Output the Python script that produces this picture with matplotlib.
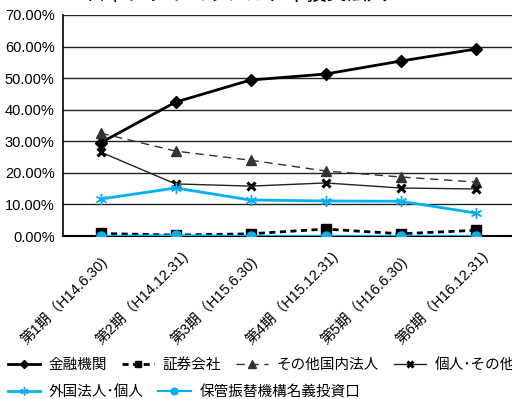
import matplotlib
matplotlib.use("Agg")
import matplotlib.pyplot as plt
import matplotlib.transforms as mtransforms
from matplotlib.ticker import FuncFormatter

plt.rcParams['font.family'] = ['Noto Sans CJK JP', 'DejaVu Sans']

title = "日本プライムリアルティ投資法人"
periods = ["第1期（H14.6.30)", "第2期（H14.12.31)", "第3期（H15.6.30)",
           "第4期（H15.12.31)", "第5期（H16.6.30)", "第6期（H16.12.31)"]

financial = [29.5, 42.4, 49.4, 51.3, 55.4, 59.2]
securities = [0.8, 0.3, 0.7, 2.2, 0.7, 1.8]
other_domestic = [32.6, 26.9, 24.0, 20.6, 18.7, 17.1]
individuals = [26.6, 16.5, 15.8, 16.8, 15.2, 14.9]
foreign = [11.7, 15.2, 11.4, 11.1, 11.0, 7.3]
jasdec = [0.0, 0.2, 0.0, 0.0, 0.0, 0.0]

names = ["金融機関", "証券会社", "その他国内法人", "個人･その他",
         "外国法人･個人", "保管振替機構名義投資口"]

CYAN = "#00B0F0"
LATIN_CJK = ["Liberation Sans", "Noto Sans CJK JP", "DejaVu Sans"]

fig = plt.figure(figsize=(5.12, 3.99), dpi=100)
ax = fig.add_axes([63 / 512, 1 - 236 / 399, 450 / 512, 221 / 399])

x = list(range(len(periods)))

h1, = ax.plot(x, financial, color="black", lw=2, marker="D", ms=6,
              zorder=5, label=names[0])
h2, = ax.plot(x, securities, color="black", lw=2, ls=(0, (2.2, 1.6)),
              marker="s", ms=6.5, zorder=5, label=names[1])
h3, = ax.plot(x, other_domestic, color="#333333", lw=1, ls=(0, (6, 4)),
              marker="^", ms=7.5, zorder=5, label=names[2])
h4, = ax.plot(x, individuals, color="#222222", lw=1, marker="x", ms=6,
              mew=2.2, mec="black", zorder=5, label=names[3])
h5, = ax.plot(x, foreign, color=CYAN, lw=2, marker=(6, 2, 0), ms=8,
              mew=1, zorder=6, label=names[4])
h6, = ax.plot(x, jasdec, color=CYAN, lw=1.5, marker="o", ms=6.5,
              zorder=7, label=names[5])

ax.set_xlim(-0.5, 5.5)
ax.set_ylim(0, 70)
ax.set_yticks(range(0, 71, 10))
ax.yaxis.set_major_formatter(FuncFormatter(lambda v, p: f"{v:.2f}%"))
ax.grid(axis="y", color="#222222", lw=1)
ax.set_axisbelow(True)

for s in ("top", "right"):
    ax.spines[s].set_visible(False)
ax.spines["left"].set_color("black")
ax.spines["left"].set_linewidth(1.2)
ax.spines["bottom"].set_color("black")
ax.spines["bottom"].set_linewidth(1.5)

ax.tick_params(axis="both", length=0)
ax.tick_params(axis="y", pad=6)
ax.tick_params(axis="x", pad=0)
for lbl in ax.get_yticklabels():
    lbl.set_fontfamily(LATIN_CJK)
    lbl.set_fontsize(10.5)

# rotated category labels, each starting below-left of its tick
ax.set_xticks(x)
ax.set_xticklabels(periods, rotation=45, ha="left", va="bottom",
                   rotation_mode="anchor", fontsize=10.5)
offset = mtransforms.ScaledTranslation(-72 / 100, -111 / 100, fig.dpi_scale_trans)
for lbl in ax.get_xticklabels():
    lbl.set_fontfamily(LATIN_CJK)
    lbl.set_transform(lbl.get_transform() + offset)

fig.text(236 / 512, 1 - 5 / 399, title, ha="center", va="bottom", fontsize=14.5)

leg_kw = dict(frameon=False, fontsize=10.5, handlelength=2.2,
              handletextpad=0.6, columnspacing=1.0, borderaxespad=0,
              borderpad=0, markerscale=0.75)
leg1 = fig.legend(handles=[h1, h2, h3, h4], ncol=4, loc="center left",
                  bbox_to_anchor=(8 / 512, 1 - 365 / 399), **leg_kw)
leg2 = fig.legend(handles=[h5, h6], ncol=2, loc="center left",
                  bbox_to_anchor=(8 / 512, 1 - 392 / 399), **leg_kw)

fig.savefig("out.png", dpi=100)
